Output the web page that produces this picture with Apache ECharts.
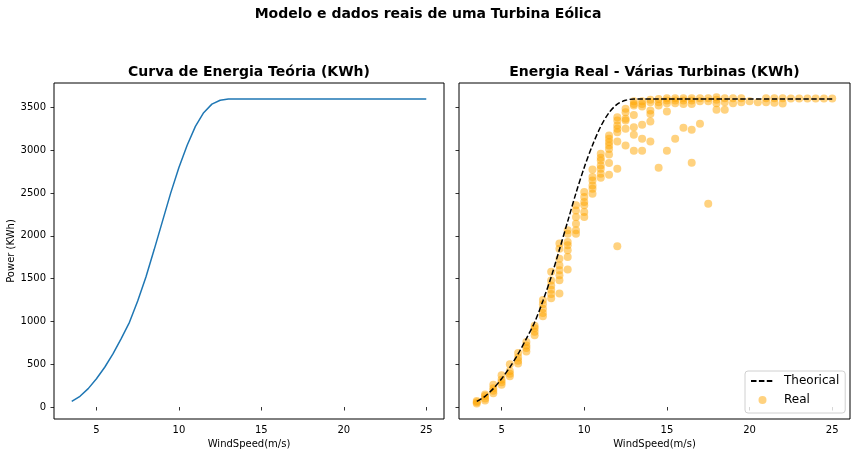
<!DOCTYPE html>
<html>
<head>
<meta charset="utf-8">
<script src="https://cdn.jsdelivr.net/npm/echarts@6/dist/echarts.min.js"></script>
<style>html,body{margin:0;padding:0;background:#fff}#c{width:856px;height:457px}</style>
</head>
<body>
<div id="c"></div>
<script>
// ---- data ----
const theorySpeed = [3.5,4,4.5,5,5.5,6,6.5,7,7.5,8,8.5,9,9.5,10,10.5,11,11.5,12,12.5,13,13.5,14,14.5,15,15.5,16,16.5,17,17.5,18,18.5,19,19.5,20,20.5,21,21.5,22,22.5,23,23.5,24,24.5,25];
const theoryPower = [65,125,215,330,465,620,800,990,1240,1520,1840,2170,2500,2800,3060,3280,3440,3540,3585,3600,3600,3600,3600,3600,3600,3600,3600,3600,3600,3600,3600,3600,3600,3600,3600,3600,3600,3600,3600,3600,3600,3600,3600,3600];

const realSpeed = [3.5,4,4.5,5,5.5,6,6.5,7,7.5,8,8.5,9,9.5,10,10.5,11,11.5,12,12.5,13,13.5,14,14.5,15,15.5,16,16.5,17,17.5,18,18.5,19,19.5,20,20.5,21,21.5,22,22.5,23,23.5,24,24.5,25];
const realPower = [
  [40,55,70],
  [75,100,130,145],
  [160,190,220,260],
  [260,290,320,370],
  [360,390,420,500],
  [510,540,580,630],
  [650,690,720,760],
  [840,880,920,950],
  [1060,1100,1150,1200,1250],
  [1270,1320,1370,1420,1480,1580],
  [1910,1851,1734,1657,1599,1540,1482,1326],
  [2065,2026,1929,1890,1832,1754,1606],
  [2357,2298,2220,2143,2065,2026],
  [2512,2454,2396,2357,2279,2220],
  [2777,2687,2648,2590,2551,2493],
  [2960,2913,2882,2823,2785,2726,2680],
  [3173,3134,3095,3056,3017,2952,2851,2715],
  [3387,3348,3290,3251,3212,3103,2785,1878],
  [3485,3446,3368,3348,3251,3057],
  [3574,3543,3524,3414,3271,3181,2995],
  [3574,3543,3512,3298,3134,2995],
  [3590,3562,3465,3426,3337,3103],
  [3601,3562,3524,2796],
  [3609,3582,3551,3453,2995],
  [3609,3582,3551,3134],
  [3609,3582,3543,3263],
  [3609,3582,3543,3240,2855],
  [3609,3574,3310],
  [3609,3574,2376],
  [3620,3590,3551,3473],
  [3609,3562,3473],
  [3609,3551],
  [3609,3562],
  [3574],
  [3562],
  [3609,3562],
  [3609,3555],
  [3609,3547],
  [3605],
  [3605],
  [3605],
  [3605],
  [3605],
  [3605]
];

const xTicks = [5,10,15,20,25];
const yTicks = [0,500,1000,1500,2000,2500,3000,3500];

const mainTitle = 'Modelo e dados reais de uma Turbina Eólica';
const leftTitle = 'Curva de Energia Teória (KWh)';
const rightTitle = 'Energia Real - Várias Turbinas (KWh)';
const xName = 'WindSpeed(m/s)';
const yName = 'Power (KWh)';

// ---- build ----
const FONT = 'DejaVu Sans';
const theoryPairs = theorySpeed.map((s,i)=>[s, theoryPower[i]]);
const realPairs = [];
realSpeed.forEach((s,i)=>realPower[i].forEach(v=>realPairs.push([s,v])));

function xAxis(idx){
  return {
    gridIndex: idx, type:'value', min:2.425, max:26.075,
    name: xName, nameLocation:'middle', nameGap:20,
    nameTextStyle:{fontFamily:FONT,fontSize:10,color:'#000'},
    splitLine:{show:false}, axisLine:{show:false},
    axisTick:{show:true, length:3.5, inside:false, customValues:xTicks, lineStyle:{color:'#000',width:0.8}},
    axisLabel:{customValues:xTicks, margin:6, fontFamily:FONT, fontSize:10, color:'#000', formatter:v=>String(v)}
  };
}
function yAxis(idx, labels){
  const a = {
    gridIndex: idx, type:'value', min:-140, max:3787,
    splitLine:{show:false}, axisLine:{show:false},
    axisTick:{show:true, length:3.5, inside:false, customValues:yTicks, lineStyle:{color:'#000',width:0.8}},
    axisLabel:{show:labels, customValues:yTicks, margin:8, fontFamily:FONT, fontSize:10, color:'#000', formatter:v=>String(v)}
  };
  if (labels) {
    a.name = yName; a.nameLocation='middle'; a.nameGap=37;
    a.nameTextStyle={fontFamily:FONT,fontSize:10,color:'#000'};
  }
  return a;
}

const chart = echarts.init(document.getElementById('c'), null, {renderer:'canvas'});
chart.setOption({
  backgroundColor:'#fff',
  animation:false,
  textStyle:{fontFamily:FONT},
  grid:[
    {left:54, top:83, width:390, height:336, show:true, borderColor:'#000', borderWidth:1, backgroundColor:'transparent'},
    {left:459, top:83, width:391, height:336, show:true, borderColor:'#000', borderWidth:1, backgroundColor:'transparent'}
  ],
  xAxis:[xAxis(0), xAxis(1)],
  yAxis:[yAxis(0,true), yAxis(1,false)],
  legend:{
    data:[
      {name:'Theorical', itemStyle:{color:'rgba(0,0,0,0)', borderWidth:0, opacity:0}},
      {name:'Real'}
    ],
    orient:'vertical', left:745, top:371,
    padding:[4,6,7,5], itemGap:7, itemWidth:23, itemHeight:8,
    borderColor:'#d0d0d0', borderWidth:1, borderRadius:3,
    backgroundColor:'rgba(255,255,255,0.8)',
    textStyle:{fontFamily:FONT, fontSize:12, color:'#000', padding:[0,0,0,5]}
  },
  graphic:[
    {type:'text', left:'center', top:7, style:{text:mainTitle, font:'bold 14px "DejaVu Sans"', fill:'#000'}},
    {type:'text', x:249, y:72, style:{text:leftTitle, font:'bold 14px "DejaVu Sans"', fill:'#000', align:'center', verticalAlign:'middle'}},
    {type:'text', x:654.5, y:72, style:{text:rightTitle, font:'bold 14px "DejaVu Sans"', fill:'#000', align:'center', verticalAlign:'middle'}}
  ],
  series:[
    {type:'line', xAxisIndex:0, yAxisIndex:0, data:theoryPairs, showSymbol:false, symbol:'none',
     lineStyle:{color:'#1f77b4', width:1.5}, z:3},
    {name:'Real', type:'scatter', xAxisIndex:1, yAxisIndex:1, data:realPairs, symbol:'circle', symbolSize:8,
     itemStyle:{color:'#FFA500', opacity:0.5}, z:2},
    {name:'Theorical', type:'line', xAxisIndex:1, yAxisIndex:1, data:theoryPairs, showSymbol:false, symbol:'none',
     smooth:0.3, lineStyle:{color:'#000', width:1.5, type:[5.5,2.4]}, itemStyle:{color:'#000'}, z:4}
  ]
});
</script>
</body>
</html>
